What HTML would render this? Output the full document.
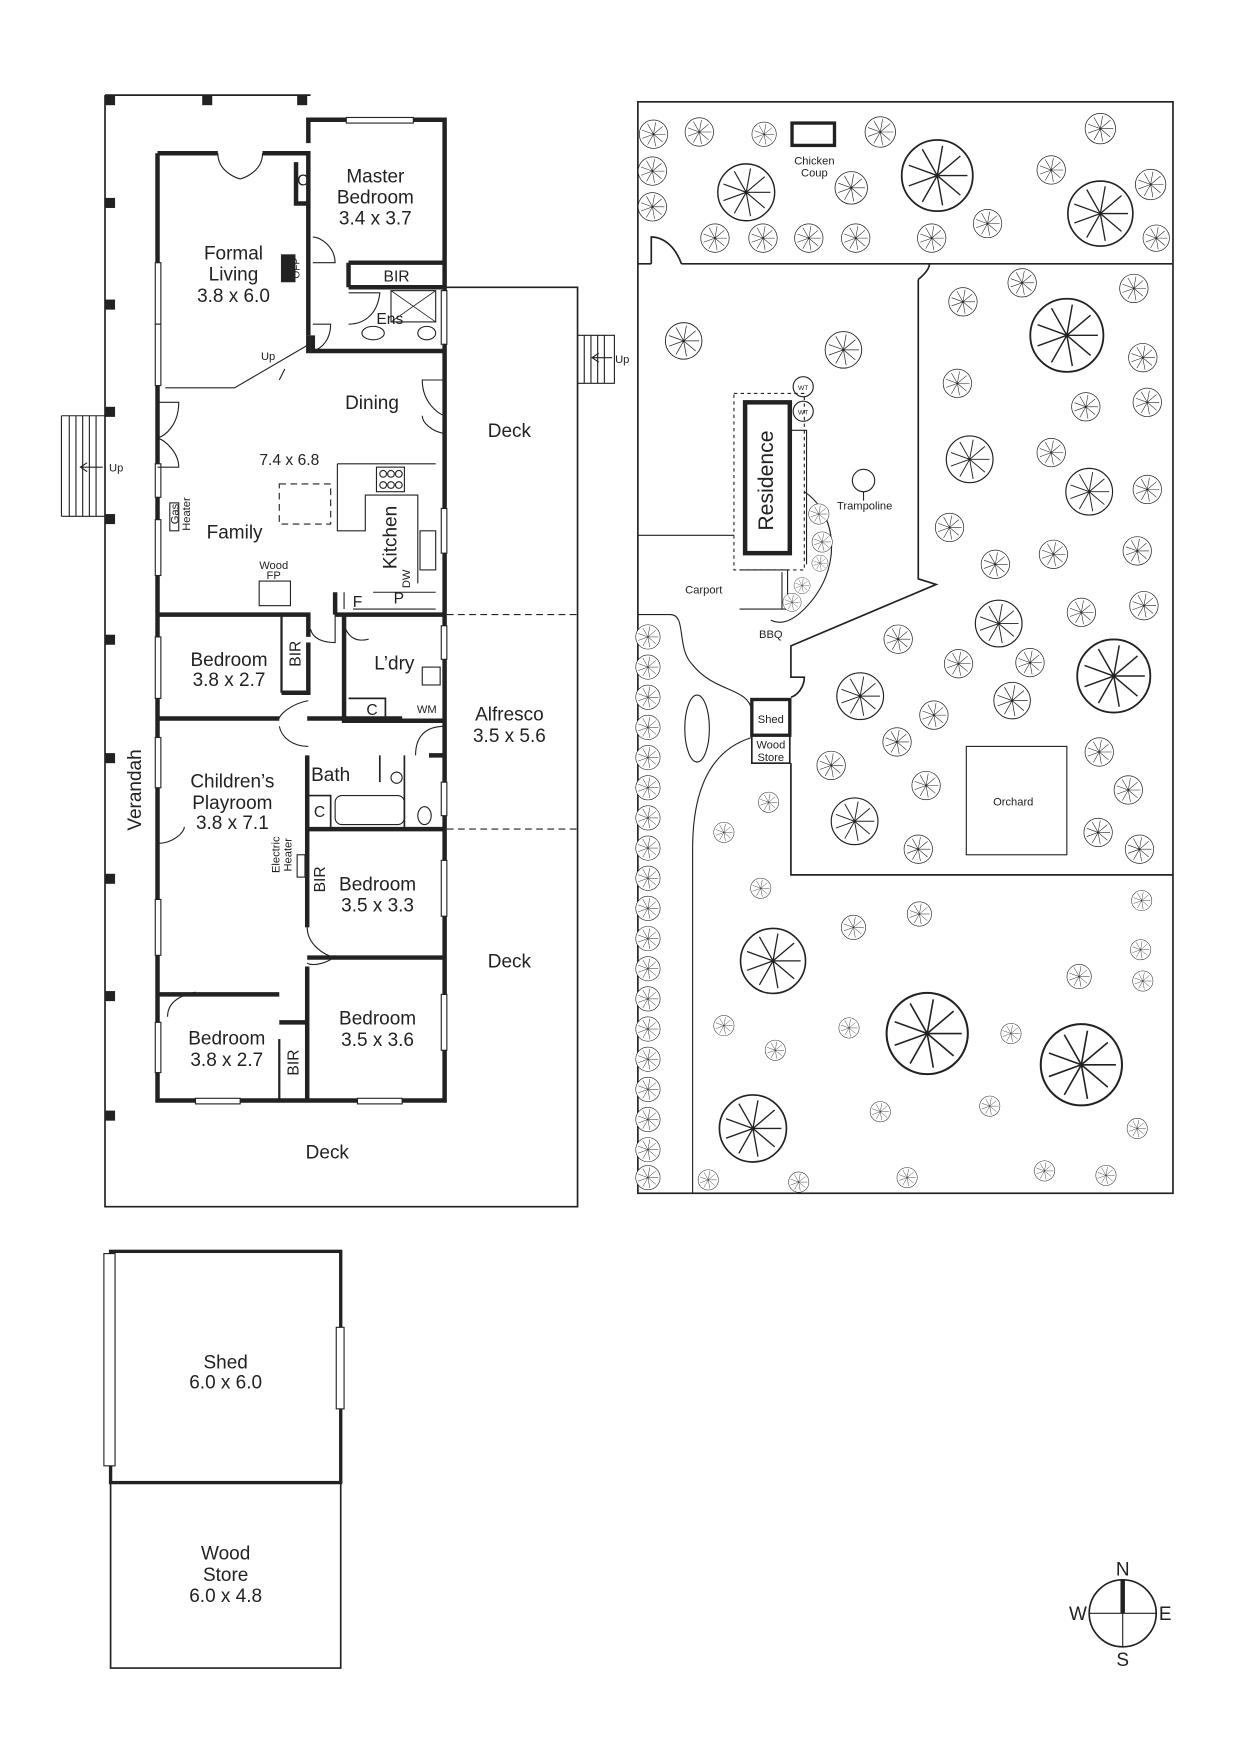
<!DOCTYPE html>
<html><head><meta charset="utf-8"><style>
html,body{margin:0;padding:0;background:#fff}
svg{display:block}
text{font-family:"Liberation Sans",sans-serif;fill:#222}
</style></head><body>
<svg width="1240" height="1752" viewBox="0 0 1110 1568" xmlns="http://www.w3.org/2000/svg">
<defs>
<symbol id="tr" viewBox="-1.1 -1.1 2.2 2.2" overflow="visible">
<circle r="1" fill="#fff" stroke="#222" stroke-width="0.05"/>
<path d="M0 0L.85 0M0 0L.65 .55M0 0L.15 .84M0 0L-.42 .74M0 0L-.8 .29M0 0L-.8 -.29M0 0L-.42 -.74M0 0L.15 -.84M0 0L.65 -.55" stroke="#222" stroke-width="0.04" fill="none"/>
</symbol>
</defs>
<g fill="none" stroke="#222">
<path d="M94 85V1080H517V257H398M94 85H278" stroke-width="1.5"/>
<g fill="#222" stroke="none">
<rect x="94" y="85" width="9" height="9"/><rect x="181" y="85" width="9" height="9"/><rect x="266" y="85" width="9" height="9"/>
<rect x="94" y="177" width="9" height="9"/><rect x="94" y="268" width="9" height="9"/><rect x="94" y="364" width="9" height="9"/><rect x="94" y="460" width="9" height="9"/><rect x="94" y="568" width="9" height="9"/><rect x="94" y="674" width="9" height="9"/><rect x="94" y="782" width="9" height="9"/><rect x="94" y="887" width="9" height="9"/><rect x="94" y="994" width="9" height="9"/>
</g>
<path d="M55 372H94M55 462H94M55 372V462M62 372V462M68 372V462M74 372V462M80 372V462M86 372V462" stroke-width="1"/>
<path d="M517 300H550V343H517M523 300V343M529 300V343M535 300V343M541 300V343" stroke-width="1"/>
<path d="M72 418H92M78 414L72 418L78 422M530 320H548M536 316L530 320L536 324" stroke-width="1"/>
<g stroke-width="4">
<path d="M141 137V985H398V107H276V128M141 137H195M235 137H276V300"/>
<path d="M312 235H398M312 257H398M312 235V257M280 300V314H398"/>
<path d="M141 550H276V570M300 550H398M308 550V645H398M141 643H250M275 643H360M275 676V742H398M384 676H398M275 742V830M275 857H398M141 890H250M275 865V985M250 915H275V985M276 300V316"/>
<path d="M265 145V182H276M252 620H276V575M300 530V550"/>
</g>
<path d="M252 550V620" stroke-width="2"/>
<path d="M250 930V985" stroke-width="2"/>
<g stroke-width="1" fill="#fff">
<rect x="139" y="235" width="5" height="55"/><rect x="139" y="290" width="5" height="55"/>
<rect x="139" y="415" width="5" height="30"/><rect x="139" y="465" width="5" height="50"/>
<rect x="139" y="570" width="5" height="55"/><rect x="139" y="660" width="5" height="45"/><rect x="139" y="805" width="5" height="50"/><rect x="139" y="915" width="5" height="45"/>
<rect x="310" y="105" width="60" height="5"/>
<rect x="395" y="260" width="5" height="48"/><rect x="395" y="455" width="5" height="40"/><rect x="395" y="560" width="5" height="30"/><rect x="395" y="700" width="5" height="30"/>
<rect x="395" y="770" width="5" height="50"/><rect x="395" y="890" width="5" height="50"/>
<rect x="175" y="983" width="40" height="5"/><rect x="320" y="983" width="40" height="5"/>
</g>
<path d="M195 137C195 155 215 160 215 160M235 137C235 155 215 160 215 160" stroke-width="1"/>
<path d="M141 360H160C160 380 148 390 141 392M141 392C148 394 160 405 160 418H141" stroke-width="1"/>
<path d="M398 340H378C378 360 392 370 398 372M378 372C378 378 386 386 398 388" stroke-width="1"/>
<path d="M280 235H300C300 222 288 212 280 212M280 290H296C296 304 288 312 280 314M312 262H340C338 282 325 290 312 290" stroke-width="1"/>
<path d="M148 347H210L282 305M255 330L250 340" stroke-width="1"/>
<path d="M300 550V575C290 575 280 572 278 563M276 627C260 630 250 640 250 643M250 650C252 660 262 668 276 668M372 676C372 660 380 650 398 650M308 560C312 570 318 575 330 572" stroke-width="1"/>
<path d="M140 755C155 755 165 745 165 740M150 910C150 895 165 890 175 888M275 830C275 845 290 855 300 857M275 862C280 865 295 862 300 855" stroke-width="1"/>
<path d="M302 415H390M302 415V475H327V443H374V522M334 530H390M308 530V545M316 545H390" stroke-width="1"/>
<rect x="337" y="418" width="25" height="22" stroke-width="1"/>
<circle cx="343" cy="424" r="3" stroke-width="1"/><circle cx="350" cy="424" r="3" stroke-width="1"/><circle cx="357" cy="424" r="3" stroke-width="1"/>
<circle cx="343" cy="434" r="3" stroke-width="1"/><circle cx="350" cy="434" r="3" stroke-width="1"/><circle cx="357" cy="434" r="3" stroke-width="1"/>
<rect x="376" y="475" width="14" height="35" stroke-width="1"/>
<rect x="250" y="433" width="46" height="36" stroke-width="1" stroke-dasharray="6 4"/>
<rect x="232" y="520" width="28" height="22" stroke-width="1"/>
<rect x="152" y="450" width="8" height="25" stroke-width="1"/>
<rect x="266" y="765" width="7" height="20" stroke-width="1"/>
<rect x="350" y="260" width="40" height="28" stroke-width="1"/><path d="M350 260L390 288M390 260L350 288" stroke-width="0.7"/>
<ellipse cx="334" cy="298" rx="10" ry="6" stroke-width="1"/><ellipse cx="382" cy="298" rx="8" ry="6" stroke-width="1"/>
<path d="M312 625H345V645" stroke-width="1.5"/><rect x="378" y="597" width="16" height="16" stroke-width="1"/>
<rect x="300" y="712" width="62" height="26" rx="6" stroke-width="1"/><path d="M275 712H296V742M340 676V700M362 676V742" stroke-width="1.5"/>
<circle cx="355" cy="696" r="5" stroke-width="1"/><ellipse cx="380" cy="730" rx="6" ry="8" stroke-width="1"/>
<rect x="252" y="228" width="12" height="24" fill="#222"/>
<path d="M400 550H517M400 742H517" stroke-width="1" stroke-dasharray="6 4"/>
<rect x="99" y="1120" width="206" height="207" stroke-width="3"/>
<path d="M99 1327V1493H305V1327" stroke-width="1.5"/>
<rect x="93" y="1122" width="10" height="190" stroke-width="1" fill="#fff"/>
<rect x="301" y="1188" width="7" height="73" stroke-width="1" fill="#fff"/>
<circle cx="1005" cy="1444" r="30" stroke-width="1.5"/><path d="M975 1444H1035M1005 1444V1474" stroke-width="1"/><path d="M1005 1414V1444" stroke-width="4"/>
<rect x="571" y="91" width="479" height="977" stroke-width="1.5"/>
<path d="M571 236H583M610 236H1050M583 236V212C595 212 605 222 610 236" stroke-width="1.5"/>
<path d="M822 250V518L838 523L708 578V606H720C720 615 714 622 708 624M708 683V783H1050M822 250C828 245 832 240 832 236" stroke-width="1.5"/>
<rect x="865" y="668" width="90" height="97" stroke-width="1"/>
<rect x="709" y="110" width="38" height="20" stroke-width="3"/>
<path d="M571 479H657M571 550H600C615 550 605 580 620 595C640 620 670 615 673 636M673 660C640 670 620 700 620 760V1068" stroke-width="1"/>
<ellipse cx="624" cy="652" rx="11" ry="30" stroke-width="1"/>
<rect x="673" y="626" width="34" height="32" stroke-width="3"/><rect x="673" y="658" width="34" height="25" stroke-width="1.5"/>
<rect x="657" y="352" width="63" height="158" stroke-width="1" stroke-dasharray="3 3"/>
<rect x="667" y="360" width="40" height="135" stroke-width="4"/>
<path d="M707 385H722V505M662 510H705V545H662M700 512V545" stroke-width="1"/>
<path d="M720 440C750 460 755 510 720 545C710 555 700 560 690 555" stroke-width="1"/>
<circle cx="719" cy="346" r="9" stroke-width="1"/><circle cx="719" cy="368" r="9" stroke-width="1"/>
<circle cx="773" cy="430" r="10" stroke-width="1"/><path d="M773 440V448" stroke-width="1"/>
</g>
<g>
<use href="#tr" x="571" y="106" width="28" height="28"/><use href="#tr" x="612" y="104" width="28" height="28"/><use href="#tr" x="672" y="108" width="24" height="24"/><use href="#tr" x="773" y="103" width="30" height="30"/>
<use href="#tr" x="804" y="122" width="70" height="70"/><use href="#tr" x="970" y="100" width="30" height="30"/><use href="#tr" x="640" y="144" width="56" height="56"/><use href="#tr" x="746" y="152" width="32" height="32"/>
<use href="#tr" x="570" y="139" width="28" height="28"/><use href="#tr" x="570" y="171" width="28" height="28"/><use href="#tr" x="626" y="199" width="28" height="28"/><use href="#tr" x="669" y="199" width="28" height="28"/>
<use href="#tr" x="710" y="199" width="28" height="28"/><use href="#tr" x="752" y="199" width="28" height="28"/><use href="#tr" x="820" y="199" width="28" height="28"/><use href="#tr" x="870" y="186" width="28" height="28"/>
<use href="#tr" x="927" y="138" width="28" height="28"/><use href="#tr" x="953" y="159" width="64" height="64"/><use href="#tr" x="1015" y="150" width="30" height="30"/><use href="#tr" x="1022" y="200" width="26" height="26"/>
<use href="#tr" x="594" y="287" width="36" height="36"/><use href="#tr" x="737" y="295" width="36" height="36"/><use href="#tr" x="848" y="256" width="28" height="28"/><use href="#tr" x="901" y="239" width="28" height="28"/>
<use href="#tr" x="919" y="264" width="72" height="72"/><use href="#tr" x="1001" y="244" width="28" height="28"/><use href="#tr" x="1009" y="306" width="28" height="28"/><use href="#tr" x="843" y="329" width="28" height="28"/>
<use href="#tr" x="958" y="350" width="28" height="28"/><use href="#tr" x="1013" y="346" width="28" height="28"/><use href="#tr" x="845" y="388" width="46" height="46"/><use href="#tr" x="927" y="391" width="28" height="28"/>
<use href="#tr" x="952" y="417" width="46" height="46"/><use href="#tr" x="1013" y="424" width="28" height="28"/><use href="#tr" x="836" y="458" width="28" height="28"/><use href="#tr" x="877" y="491" width="28" height="28"/>
<use href="#tr" x="929" y="482" width="28" height="28"/><use href="#tr" x="1004" y="479" width="28" height="28"/><use href="#tr" x="871" y="535" width="46" height="46"/><use href="#tr" x="954" y="534" width="28" height="28"/>
<use href="#tr" x="1010" y="528" width="28" height="28"/><use href="#tr" x="790" y="558" width="28" height="28"/><use href="#tr" x="844" y="580" width="28" height="28"/><use href="#tr" x="908" y="579" width="28" height="28"/>
<use href="#tr" x="961" y="569" width="72" height="72"/><use href="#tr" x="747" y="600" width="46" height="46"/><use href="#tr" x="822" y="626" width="28" height="28"/><use href="#tr" x="888" y="609" width="36" height="36"/>
<use href="#tr" x="789" y="650" width="28" height="28"/><use href="#tr" x="730" y="671" width="28" height="28"/><use href="#tr" x="815" y="689" width="28" height="28"/><use href="#tr" x="970" y="659" width="28" height="28"/>
<use href="#tr" x="996" y="693" width="28" height="28"/><use href="#tr" x="742" y="712" width="46" height="46"/><use href="#tr" x="678" y="708" width="20" height="20"/><use href="#tr" x="638" y="735" width="20" height="20"/>
<use href="#tr" x="808" y="746" width="28" height="28"/><use href="#tr" x="969" y="731" width="28" height="28"/><use href="#tr" x="1006" y="746" width="28" height="28"/>
<use href="#tr" x="671" y="785" width="20" height="20"/><use href="#tr" x="752" y="818" width="24" height="24"/><use href="#tr" x="811" y="806" width="24" height="24"/><use href="#tr" x="1012" y="796" width="20" height="20"/>
<use href="#tr" x="1011" y="840" width="20" height="20"/><use href="#tr" x="660" y="828" width="64" height="64"/><use href="#tr" x="954" y="862" width="24" height="24"/><use href="#tr" x="1013" y="868" width="20" height="20"/>
<use href="#tr" x="790" y="885" width="80" height="80"/><use href="#tr" x="638" y="908" width="20" height="20"/><use href="#tr" x="684" y="930" width="20" height="20"/><use href="#tr" x="750" y="910" width="20" height="20"/>
<use href="#tr" x="895" y="915" width="20" height="20"/><use href="#tr" x="928" y="913" width="80" height="80"/><use href="#tr" x="641" y="977" width="66" height="66"/><use href="#tr" x="778" y="985" width="20" height="20"/>
<use href="#tr" x="876" y="980" width="20" height="20"/><use href="#tr" x="1008" y="1000" width="20" height="20"/><use href="#tr" x="624" y="1046" width="20" height="20"/><use href="#tr" x="705" y="1048" width="20" height="20"/>
<use href="#tr" x="802" y="1044" width="20" height="20"/><use href="#tr" x="925" y="1038" width="20" height="20"/><use href="#tr" x="980" y="1042" width="20" height="20"/>
<use href="#tr" x="723" y="450" width="20" height="20"/><use href="#tr" x="726" y="475" width="20" height="20"/><use href="#tr" x="726" y="496" width="16" height="16"/><use href="#tr" x="710" y="516" width="16" height="16"/><use href="#tr" x="700" y="530" width="18" height="18"/>
<use href="#tr" x="568" y="558" width="24" height="24"/><use href="#tr" x="568" y="585" width="24" height="24"/><use href="#tr" x="568" y="612" width="24" height="24"/><use href="#tr" x="568" y="639" width="24" height="24"/>
<use href="#tr" x="568" y="666" width="24" height="24"/><use href="#tr" x="568" y="693" width="24" height="24"/><use href="#tr" x="568" y="720" width="24" height="24"/><use href="#tr" x="568" y="747" width="24" height="24"/>
<use href="#tr" x="568" y="774" width="24" height="24"/><use href="#tr" x="568" y="801" width="24" height="24"/><use href="#tr" x="568" y="828" width="24" height="24"/><use href="#tr" x="568" y="855" width="24" height="24"/>
<use href="#tr" x="568" y="882" width="24" height="24"/><use href="#tr" x="568" y="909" width="24" height="24"/><use href="#tr" x="568" y="936" width="24" height="24"/><use href="#tr" x="568" y="963" width="24" height="24"/>
<use href="#tr" x="568" y="990" width="24" height="24"/><use href="#tr" x="568" y="1017" width="24" height="24"/><use href="#tr" x="568" y="1042" width="24" height="24"/>
</g>
<g font-size="17" text-anchor="middle">
<text x="336" y="163">Master</text><text x="336" y="182">Bedroom</text><text x="336" y="201">3.4 x 3.7</text>
<text x="209" y="232">Formal</text><text x="209" y="251">Living</text><text x="209" y="270">3.8 x 6.0</text>
<text x="333" y="366">Dining</text><text x="456" y="391">Deck</text><text x="210" y="482">Family</text>
<text x="205" y="596">Bedroom</text><text x="205" y="614">3.8 x 2.7</text>
<text x="353" y="599">L’dry</text>
<text x="456" y="645">Alfresco</text><text x="456" y="664">3.5 x 5.6</text>
<text x="208" y="705">Children’s</text><text x="208" y="724">Playroom</text><text x="208" y="742">3.8 x 7.1</text>
<text x="296" y="699">Bath</text>
<text x="338" y="797">Bedroom</text><text x="338" y="816">3.5 x 3.3</text>
<text x="456" y="866">Deck</text>
<text x="338" y="917">Bedroom</text><text x="338" y="936">3.5 x 3.6</text>
<text x="203" y="935">Bedroom</text><text x="203" y="954">3.8 x 2.7</text>
<text x="293" y="1037">Deck</text>
<text x="202" y="1225">Shed</text><text x="202" y="1243">6.0 x 6.0</text>
<text x="202" y="1396">Wood</text><text x="202" y="1415">Store</text><text x="202" y="1434">6.0 x 4.8</text>
<text x="1005" y="1410">N</text><text x="965" y="1450">W</text><text x="1043" y="1450">E</text><text x="1005" y="1491">S</text>
<text transform="translate(126 707) rotate(-90)">Verandah</text>
<text transform="translate(355 481) rotate(-90)">Kitchen</text>
<text transform="translate(692 430) rotate(-90)" font-size="19">Residence</text>
</g>
<g font-size="14" text-anchor="middle">
<text x="355" y="252">BIR</text><text x="349" y="290">Ens</text><text x="320" y="543">F</text><text x="357" y="540">P</text>
<text x="333" y="640">C</text><text x="286" y="731">C</text><text x="271" y="166">C</text><text x="259" y="416">7.4 x 6.8</text>
<text transform="translate(269 585) rotate(-90)">BIR</text><text transform="translate(291 787) rotate(-90)">BIR</text><text transform="translate(267 951) rotate(-90)">BIR</text>
</g>
<g font-size="10" text-anchor="middle">
<text x="240" y="322">Up</text><text x="104" y="422">Up</text><text x="557" y="325">Up</text>
<text x="245" y="509">Wood</text><text x="245" y="518">FP</text><text x="382" y="638">WM</text>
<text transform="translate(160 460) rotate(-90)">Gas</text><text transform="translate(170 460) rotate(-90)">Heater</text>
<text transform="translate(250 765) rotate(-90)">Electric</text><text transform="translate(261 765) rotate(-90)">Heater</text>
<text transform="translate(268 240) rotate(-90)" font-size="9">OFP</text><text transform="translate(367 518) rotate(-90)">DW</text>
<text x="729" y="147">Chicken</text><text x="729" y="158">Coup</text><text x="774" y="456">Trampoline</text>
<text x="630" y="531">Carport</text><text x="690" y="571">BBQ</text><text x="690" y="647">Shed</text><text x="690" y="670">Wood</text><text x="690" y="681">Store</text>
<text x="907" y="721">Orchard</text><text x="719" y="349" font-size="6">WT</text><text x="719" y="371" font-size="6">WT</text>
</g>
</svg>
</body></html>
